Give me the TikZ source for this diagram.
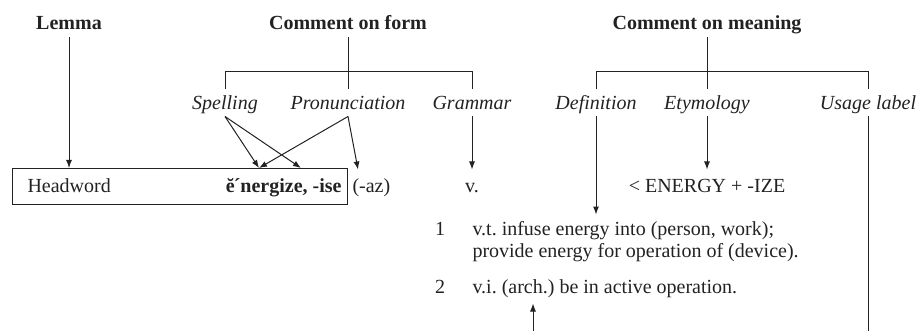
\documentclass[tikz,border=0pt]{standalone}
\usepackage{fontspec}
\setmainfont{Liberation Serif}
\usepackage{tikz}
\usetikzlibrary{arrows.meta, calc}
\definecolor{inkgray}{HTML}{222222}
\frenchspacing

\begin{document}
\begin{tikzpicture}[x=1pt, y=-1pt, color=inkgray, line width=1pt,
  txt/.style={font=\fontsize{20}{24}\selectfont, inner sep=0pt, anchor=base},
  head/.style={txt, font=\fontsize{20}{24}\selectfont\bfseries, text depth=7pt},
  cat/.style={txt, font=\fontsize{20}{24}\selectfont\itshape, text height=20pt, text depth=6pt},
  row/.style={txt, text height=23pt},
  arr/.style={-{Latex[length=8pt, width=6pt]}}]
\useasboundingbox (0,0) rectangle (920,331);
% top headings
\node[head] (lemma) at (69,30) {Lemma};
\node[head] (form) at (348,30) {Comment on form};
\node[head] (meaning) at (707,30) {Comment on meaning};
% categories
\node[cat] (spell) at (225,110) {Spelling};
\node[cat] (pron) at (348,110) {Pronunciation};
\node[cat] (gram) at (472,110) {Grammar};
\node[cat] (defn) at (596,110) {Definition};
\node[cat] (etym) at (707,110) {Etymology};
\node[cat] (usage) at (868,110) {Usage label};
\coordinate (bar) at (0,72);
\draw (spell.north) |- (gram.north |- bar) -- (gram.north);
\draw (form.south) -- (pron.north);
\draw (defn.north) |- (usage.north |- bar) -- (usage.north);
\draw (meaning.south) -- (etym.north);
% the entry
\node[draw, minimum width=335pt, minimum height=36pt, inner sep=0pt, anchor=north west] (entry) at (12,168) {};
\node[row, anchor=base west] (hword) at (27,193) {Headword};
\node[row, anchor=base east, font=\fontsize{20}{24}\selectfont\bfseries] (lemmaword) at (342,193) {ĕ\kern-1pt´nergize, -ise};
\node[row, anchor=base west] (az) at (352,193) {(-az)};
\node[row] (pos) at (472,193) {v.};
\node[row] (origin) at (707,193) {< ENERGY + -IZE};
\node[txt] (n1) at (440,235) {1};
\node[txt, anchor=base west, text height=20pt] (sense1) at (472,235) {v.t. infuse energy into (person, work);};
\node[txt, anchor=base west] (sense1b) at (472,257) {provide energy for operation of (device).};
\node[txt] (n2) at (440,293) {2};
\node[txt, anchor=base west, text depth=10pt] (sense2) at (472,293) {v.i. (arch.) be in active operation.};
% arrows
\coordinate (hit1) at ($(entry.north west)+(247,0)$);
\coordinate (hit2) at ($(entry.north west)+(289,0)$);
\draw[arr] (lemma.south) -- (lemma |- entry.north);
\draw[arr] (spell.south) -- (hit1);
\draw[arr] (spell.south) -- (hit2);
\draw[arr] (pron.south) -- (hit1);
\draw[arr] (pron.south) -- ($(az.north west)+(6,0)$);
\draw[arr] (gram.south) -- (pos.north);
\draw[arr] (defn.south) -- (defn.south |- sense1.north);
\draw[arr] (etym.south) -- (origin.north);
\coordinate (usagefoot) at (868,331);
\draw (usage.south) -- (usagefoot);
\coordinate (archfoot) at (533,331);
\draw[arr] (archfoot) -- (archfoot |- sense2.south);
\end{tikzpicture}
\end{document}
